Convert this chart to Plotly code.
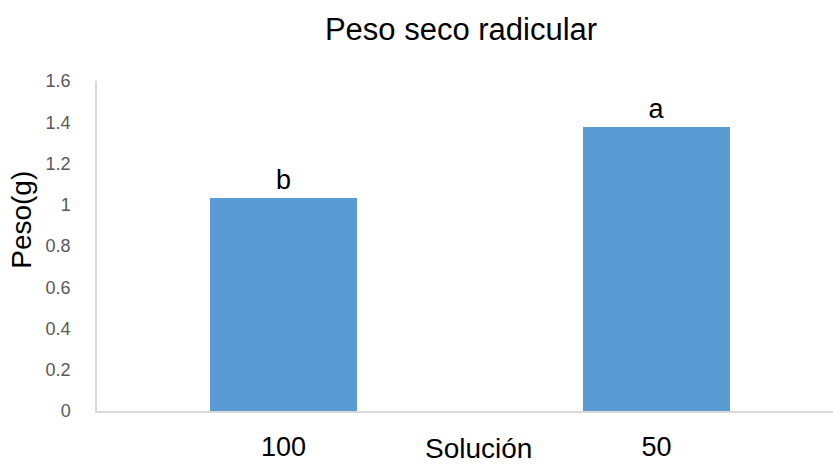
import plotly.graph_objects as go

# Root dry weight by nutrient solution concentration
categories = ["100", "50"]
peso = [1.033, 1.377]
letras = ["b", "a"]
y_ticks = [0, 0.2, 0.4, 0.6, 0.8, 1, 1.2, 1.4, 1.6]

W, H = 833, 467
L, R, T, B = 97, 0, 81, 55.5
pw = W - L - R
ph = H - T - B
FONT = "Liberation Sans, Arial, sans-serif"

fig = go.Figure(
    go.Bar(
        x=categories,
        y=peso,
        text=letras,
        textposition="outside",
        textfont=dict(family=FONT, size=27, color="#000000"),
        marker=dict(color="#5B9BD5", line=dict(width=0)),
        cliponaxis=False,
    )
)

fig.update_layout(
    width=W,
    height=H,
    margin=dict(l=L, r=R, t=T, b=B),
    paper_bgcolor="white",
    plot_bgcolor="white",
    bargap=0.606,
    showlegend=False,
    title=dict(
        text="Peso seco radicular",
        x=461 / W,
        xanchor="center",
        y=1 - 29 / H,
        yanchor="middle",
        font=dict(family=FONT, size=31, color="#000000"),
    ),
    font=dict(family=FONT),
)

fig.update_xaxes(
    type="category",
    range=[-0.5, -0.5 + pw / 373],
    showline=True,
    linecolor="#D9D9D9",
    linewidth=1.5,
    showgrid=False,
    ticks="",
    ticklabelstandoff=11,
    tickfont=dict(family=FONT, size=27, color="#000000"),
)

fig.update_yaxes(
    range=[0, 1.6],
    tickvals=y_ticks,
    ticktext=[f"{v:g}" for v in y_ticks],
    showline=True,
    linecolor="#D9D9D9",
    linewidth=1.5,
    showgrid=False,
    zeroline=False,
    ticks="",
    ticklabelstandoff=21,
    tickfont=dict(family=FONT, size=18, color="#595959"),
)

# Axis titles placed as annotations
fig.add_annotation(
    text="Solución",
    xref="paper", yref="paper",
    x=(478 - L) / pw, y=-(H - 0.5 - (H - B)) / ph,
    xanchor="center", yanchor="bottom",
    showarrow=False,
    font=dict(family=FONT, size=28, color="#000000"),
)
fig.add_annotation(
    text="Peso(g)",
    xref="paper", yref="paper",
    x=(22 - L) / pw, y=((H - B) - 220) / ph,
    xanchor="center", yanchor="middle",
    textangle=-90,
    showarrow=False,
    font=dict(family=FONT, size=28, color="#000000"),
)

fig.write_html("out.html")
